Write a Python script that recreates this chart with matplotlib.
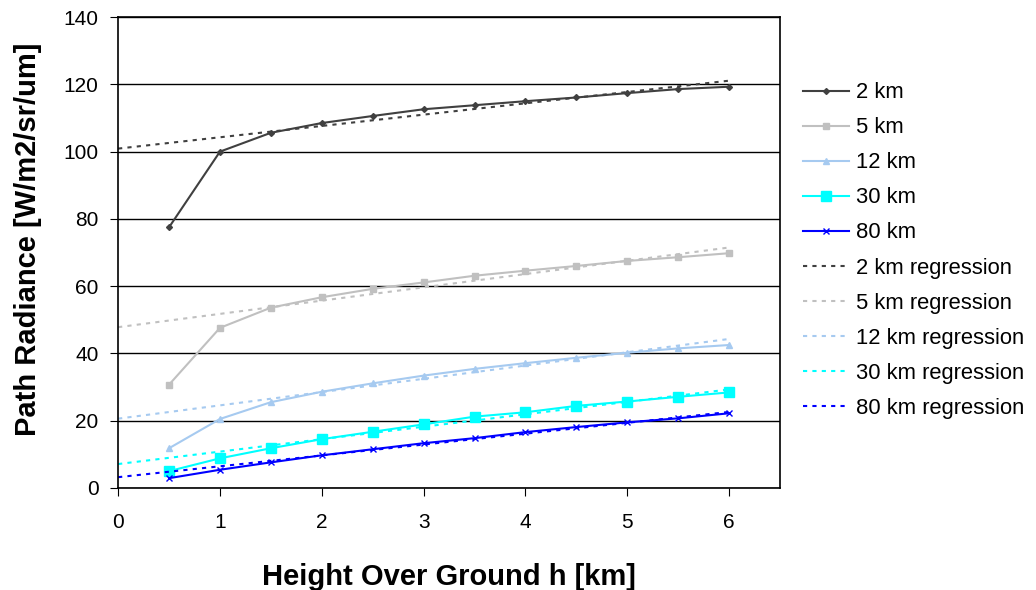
import matplotlib
matplotlib.use("Agg")
import matplotlib.pyplot as plt

plt.rcParams['font.family'] = ['Liberation Sans', 'DejaVu Sans']

# heights over ground [km]
height = [0.5, 1, 1.5, 2, 2.5, 3, 3.5, 4, 4.5, 5, 5.5, 6]

# path radiance for each visibility
rad_2km = [77.5, 100, 105.6, 108.5, 110.6, 112.6, 113.8, 115, 116.1, 117.4, 118.6, 119.3]
rad_5km = [30.7, 47.6, 53.6, 56.7, 59.2, 61.1, 63.1, 64.6, 66, 67.5, 68.6, 69.8]
rad_12km = [11.8, 20.5, 25.5, 28.6, 31.1, 33.4, 35.4, 37.1, 38.7, 40.2, 41.5, 42.5]
rad_30km = [5.0, 8.8, 11.8, 14.5, 16.7, 18.9, 21.2, 22.5, 24.4, 25.7, 27.1, 28.4]
rad_80km = [2.9, 5.4, 7.6, 9.7, 11.5, 13.3, 14.8, 16.6, 18.1, 19.5, 20.7, 22.2]

# regression lines (read at both ends)
reg_x = [0, 6]
reg_2km = [100.9, 121.1]
reg_5km = [47.8, 71.5]
reg_12km = [20.6, 44.3]
reg_30km = [7.1, 29.3]
reg_80km = [3.2, 22.6]

labels = ["2 km", "5 km", "12 km", "30 km", "80 km"]

fig = plt.figure(figsize=(10.36, 5.9), dpi=100)
ax = fig.add_axes([0.114, 0.173, 0.639, 0.798])

ax.plot(height, rad_2km, color='#404040', marker='D', markersize=3, lw=1.5, label=labels[0])
ax.plot(height, rad_5km, color='#c0c0c0', marker='s', markersize=4, lw=1.5, label=labels[1])
ax.plot(height, rad_12km, color='#a6caf0', marker='^', markersize=5, lw=1.5, label=labels[2])
ax.plot(height, rad_30km, color='#00ffff', marker='s', markersize=7, lw=1.5, label=labels[3])
ax.plot(height, rad_80km, color='#0000ff', marker='x', markersize=4, mew=1, lw=1.5, label=labels[4])

dots = (0, (2, 2.5))
ax.plot(reg_x, reg_2km, color='#404040', ls=dots, lw=1.5, label=labels[0] + " regression")
ax.plot(reg_x, reg_5km, color='#c0c0c0', ls=dots, lw=1.5, label=labels[1] + " regression")
ax.plot(reg_x, reg_12km, color='#a6caf0', ls=dots, lw=1.5, label=labels[2] + " regression")
ax.plot(reg_x, reg_30km, color='#00ffff', ls=dots, lw=1.5, label=labels[3] + " regression")
ax.plot(reg_x, reg_80km, color='#0000ff', ls=dots, lw=1.5, label=labels[4] + " regression")

ax.set_xlim(0, 6.5)
ax.set_ylim(0, 140)
ax.set_xticks(range(0, 7))
ax.set_yticks(range(0, 141, 20))
ax.yaxis.grid(True, color='black', lw=1)
ax.set_axisbelow(True)
for s in ax.spines.values():
    s.set_linewidth(1.2)
ax.tick_params(labelsize=15, length=6, direction='out')
ax.tick_params(axis='x', pad=12)
ax.tick_params(axis='y', pad=8)

ax.set_xlabel("Height Over Ground h [km]", fontsize=21, fontweight='bold', va='center')
ax.xaxis.set_label_coords(0.5, -0.189)
ax.set_ylabel("Path Radiance [W/m2/sr/um]", fontsize=21, fontweight='bold', va='center')
ax.yaxis.set_label_coords(-0.136, 0.529)

fig.legend(loc='upper left', bbox_to_anchor=(0.756, 0.894), frameon=False,
           fontsize=15.8, labelspacing=0.64, handlelength=2.1, handletextpad=0.3)

fig.savefig("out.png", dpi=100)
